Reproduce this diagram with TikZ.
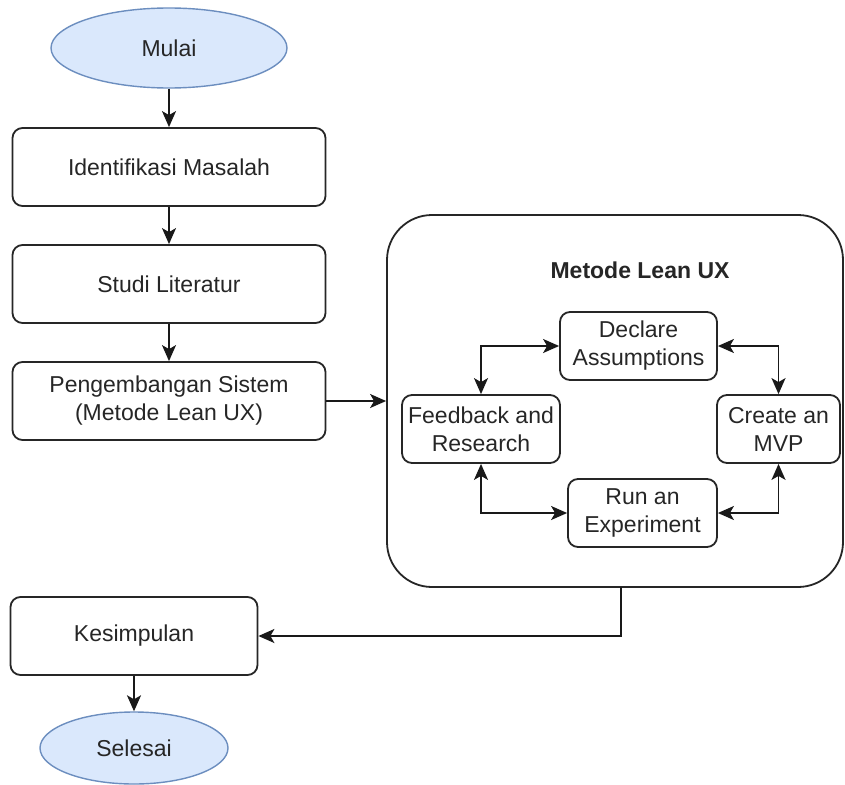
\documentclass[tikz,border=0pt]{standalone}
\usepackage{fontspec}
\setmainfont{Liberation Sans}
\usetikzlibrary{shapes.geometric,arrows.meta}
\definecolor{termfill}{HTML}{DAE8FC}
\definecolor{termdraw}{HTML}{6C8EBF}
\definecolor{txt}{HTML}{262626}
\tikzset{
  base/.style={font=\fontsize{23}{28}\selectfont, text=txt, align=center, inner sep=2pt},
  term/.style={base, ellipse, draw=termdraw, fill=termfill, line width=1.4pt},
  stepbox/.style={base, draw=black!85, line width=1.8pt, rounded corners=10pt, minimum width=313pt, minimum height=78pt},
  loopbox/.style={base, draw=black!85, line width=1.8pt, rounded corners=10pt, minimum height=68pt},
  tipstyle/.style={},
  arr/.style={draw=black!90, line width=1.8pt, -{Stealth[length=16pt,width=14pt,inset=4pt]}},
  darr/.style={draw=black!90, line width=1.8pt, {Stealth[length=16pt,width=14pt,inset=4pt]}-{Stealth[length=16pt,width=14pt,inset=4pt]}},
}
\begin{document}
\begin{tikzpicture}[x=1pt,y=-1pt]
\useasboundingbox (0,0) rectangle (845,784);
\node[term, minimum width=236pt, minimum height=80pt] (mulai) at (169,48) {Mulai};
\node[stepbox] (iden) at (169,167) {Identifikasi Masalah};
\node[stepbox] (studi) at (169,284) {Studi Literatur};
\node[stepbox] (peng) at (169,401) {Pengembangan Sistem\\(Metode Lean UX)};
\node[draw=black!85, line width=1.8pt, rounded corners=45pt, minimum width=456pt, minimum height=372pt] (big) at (615,401) {};
\node[base, font=\fontsize{23}{28}\selectfont\bfseries] (title) at (640,270) {Metode Lean UX};
\node[loopbox, minimum width=157pt] (dec) at (638.5,346) {Declare\\Assumptions};
\node[loopbox, minimum width=158pt] (fb) at (481,429) {Feedback and\\Research};
\node[loopbox, minimum width=123pt] (mvp) at (778.5,429) {Create an\\MVP};
\node[loopbox, minimum width=149pt] (run) at (642.5,513) {Run an\\Experiment};
\node[stepbox, minimum width=247pt] (kes) at (134,636) {Kesimpulan};
\node[term, minimum width=188pt, minimum height=72pt] (sel) at (134,748) {Selesai};
\coordinate (bigout) at (621,587);
\draw[arr] (mulai.south) -- (iden.north);
\draw[arr] (iden) -- (studi);
\draw[arr] (studi) -- (peng);
\draw[arr] (peng.east) -- (big.west);
\draw[arr] (bigout) |- (kes.east);
\draw[arr] (kes.south) -- (sel.north);
\draw[darr] (fb.north) |- (dec.west);
\draw[darr] (dec.east) -| (mvp.north);
\draw[darr] (fb.south) |- (run.west);
\draw[darr] (mvp.south) |- (run.east);
\end{tikzpicture}
\end{document}
